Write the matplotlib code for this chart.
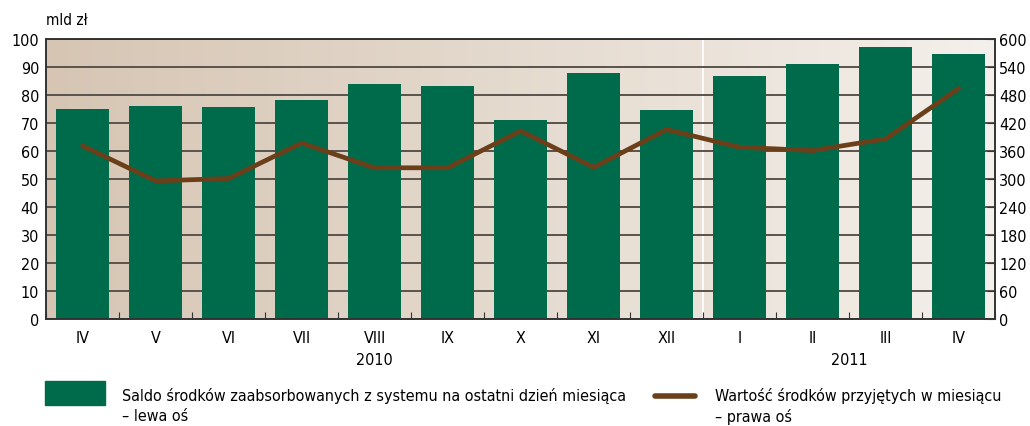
import numpy as np
import matplotlib.pyplot as plt
from matplotlib.colors import LinearSegmentedColormap
from matplotlib.patches import Rectangle
from matplotlib.lines import Line2D

plt.rcParams['font.family'] = ['DejaVu Sans']
plt.rcParams['font.stretch'] = 'condensed'

months = ['IV', 'V', 'VI', 'VII', 'VIII', 'IX', 'X', 'XI', 'XII', 'I', 'II', 'III', 'IV']
saldo = [75.0, 76.1, 75.7, 78.2, 83.9, 83.2, 71.1, 87.9, 74.6, 86.8, 91.1, 97.1, 94.6]
wartosc = [371, 296, 301, 377, 324, 324, 403, 325, 406, 368, 361, 386, 494]
years = ['2010', '2011']

green = '#006b4b'
brown = '#6b3f1a'

fig = plt.figure(figsize=(10.3, 4.27), dpi=100)
ax = fig.add_axes([0.0447, 0.2506, 0.9215, 0.6557])
x = np.arange(len(months))
ax.set_xlim(-0.5, len(months) - 0.5)
ax.set_ylim(0, 100)

# background gradient
cmap = LinearSegmentedColormap.from_list('bg', ['#d6c5b3', '#f4f0eb'])
ax.imshow(np.linspace(0, 1, 256).reshape(1, -1), cmap=cmap, aspect='auto',
          extent=[-0.5, len(months) - 0.5, 0, 100], zorder=0)
ax.axvline(8.5, color='white', lw=1.2, zorder=0.5)

ax.set_yticks(np.arange(0, 101, 10))
ax.grid(axis='y', color='#5a534c', lw=1.4, zorder=1)
ax.bar(x, saldo, width=0.73, color=green, zorder=2)

ax.set_xticks(np.arange(-0.5, len(months), 1), minor=False)
ax.set_xticklabels([])
ax.set_xticks(x, minor=True)
ax.set_xticklabels(months, minor=True, fontsize=11.5)
ax.tick_params(axis='x', which='major', direction='in', length=5, color='#333333')
ax.tick_params(axis='x', which='minor', length=0, pad=8)
ax.tick_params(axis='y', length=0, labelsize=11.5, pad=5)

ax.text(4, -14.5, years[0], ha='center', va='center', fontsize=11.5)
ax.text(10.5, -14.5, years[1], ha='center', va='center', fontsize=11.5)
ax.text(-0.5, 107, 'mld zł', fontsize=11, ha='left', va='center')

ax2 = ax.twinx()
ax2.set_ylim(0, 600)
ax2.set_yticks(np.arange(0, 601, 60))
ax2.tick_params(axis='y', direction='in', length=6, labelsize=11.5, pad=3, color='#333333')
ax2.plot(x, wartosc, color=brown, lw=3.4, solid_capstyle='round', solid_joinstyle='round', zorder=3)

for a in (ax, ax2):
    for s in a.spines.values():
        s.set_color('#333333')
        s.set_linewidth(1.2)

# legend
fig.patches.append(Rectangle((45 / 1030, 1 - 406 / 427), 60 / 1030, 24 / 427,
                             transform=fig.transFigure, color=green))
fig.text(122 / 1030, 1 - 396 / 427, 'Saldo środków zaabsorbowanych z systemu na ostatni dzień miesiąca',
         fontsize=11.5, va='center')
fig.text(122 / 1030, 1 - 417 / 427, '– lewa oś', fontsize=11.5, va='center')
fig.lines.append(Line2D([655 / 1030, 695 / 1030], [1 - 397 / 427, 1 - 397 / 427],
                        transform=fig.transFigure, color=brown, lw=4, solid_capstyle='round'))
fig.text(715 / 1030, 1 - 396 / 427, 'Wartość środków przyjętych w miesiącu', fontsize=11.5, va='center')
fig.text(715 / 1030, 1 - 417 / 427, '– prawa oś', fontsize=11.5, va='center')

fig.savefig('out.png', dpi=100)
